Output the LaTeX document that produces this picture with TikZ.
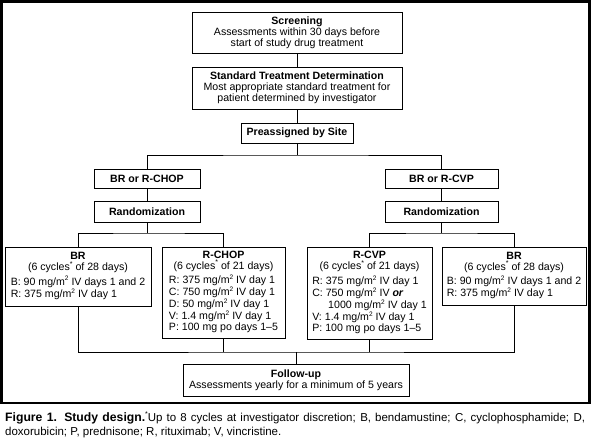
\documentclass[tikz,border=0pt]{standalone}
\usepackage{fontspec}
\setmainfont{Liberation Sans}
\newcommand{\sq}{\raisebox{0.75ex}{\fontsize{6.5}{6.5}\selectfont 2}}
\newcommand{\st}{\raisebox{0.8ex}{\fontsize{7}{7}\selectfont *}}
\begin{document}
\begin{tikzpicture}[x=1pt,y=-1pt,
  box/.style={draw, line width=0.9pt, inner sep=0pt, align=center,
    font=\fontsize{10.6}{11}\selectfont},
  conn/.style={line width=0.9pt},
  frame/.style={line width=2.2pt}]
\useasboundingbox (0,0) rectangle (591,441);
\fill[white] (0,0) rectangle (591,441);
\draw[frame] (1.5,1.5) rectangle (589.5,403);

\node[box, minimum width=210pt, minimum height=41pt] (screen) at (297,32.5)
  {\textbf{Screening}\\Assessments within 30 days before\\start of study drug treatment};
\node[box, minimum width=210pt, minimum height=42pt] (std) at (297,88)
  {\textbf{Standard Treatment Determination}\\Most appropriate standard treatment for\\patient determined by investigator};
\node[box, minimum width=112pt, minimum height=20pt] (pre) at (297,133) {\textbf{Preassigned by Site}};
\coordinate (b) at (297,155);

\node[box, minimum width=106pt, minimum height=19pt] (lsel) at (147,178.5) {\textbf{BR or R-CHOP}};
\node[box, minimum width=106pt, minimum height=21pt] (lrand) at (147,211.5) {\textbf{Randomization}};
\coordinate (ls) at (147,233);
\node[box, minimum width=113pt, minimum height=19pt] (rsel) at (441.5,178.5) {\textbf{BR or R-CVP}};
\node[box, minimum width=113pt, minimum height=21pt] (rrand) at (441.5,211.5) {\textbf{Randomization}};
\coordinate (rs) at (441.5,233);

\node[box, minimum width=146pt, minimum height=59pt] (lbr) at (78,276.5)
  {\textbf{BR}\\(6 cycles\st{} of 28 days)\\[2.5pt]
   \begin{tabular}{@{}l@{}}B: 90 mg/m\sq{} IV days 1 and 2\\R: 375 mg/m\sq{} IV day 1\end{tabular}};
\node[box, minimum width=123pt, minimum height=91pt] (lchop) at (223.5,292.5)
  {\textbf{R-CHOP}\\(6 cycles\st{} of 21 days)\\[2.5pt]
   \begin{tabular}{@{}l@{}}R: 375 mg/m\sq{} IV day 1\\C: 750 mg/m\sq{} IV day 1\\D: 50 mg/m\sq{} IV day 1\\V: 1.4 mg/m\sq{} IV day 1\\P: 100 mg po days 1--5\end{tabular}};
\node[box, minimum width=125pt, minimum height=92pt] (rcvp) at (369.5,293)
  {\textbf{R-CVP}\\(6 cycles\st{} of 21 days)\\[2.5pt]
   \begin{tabular}{@{}l@{}}R: 375 mg/m\sq{} IV day 1\\C: 750 mg/m\sq{} IV \textbf{\textit{or}}\\\hspace{1.5em}1000 mg/m\sq{} IV day 1\\V: 1.4 mg/m\sq{} IV day 1\\P: 100 mg po days 1--5\end{tabular}};
\node[box, minimum width=144pt, minimum height=58pt] (rbr) at (514,276)
  {\textbf{BR}\\(6 cycles\st{} of 28 days)\\[2.5pt]
   \begin{tabular}{@{}l@{}}B: 90 mg/m\sq{} IV days 1 and 2\\R: 375 mg/m\sq{} IV day 1\end{tabular}};

\coordinate (j) at (296,352);
\node[box, minimum width=226pt, minimum height=32pt] (follow) at (296,380)
  {\textbf{Follow-up}\\Assessments yearly for a minimum of 5 years};

\draw[conn] (screen.south) -- (std.north);
\draw[conn] (std.south) -- (pre.north);
\draw[conn] (pre.south) -- (b);
\draw[conn] (lsel.north) |- (b) -| (rsel.north);
\draw[conn] (lsel.south) -- (lrand.north);
\draw[conn] (rsel.south) -- (rrand.north);
\draw[conn] (lrand.south) -- (ls);
\draw[conn] (rrand.south) -- (rs);
\draw[conn] (lbr.north) |- (ls) -| (lchop.north);
\draw[conn] (rcvp.north) |- (rs) -| (rbr.north);
\draw[conn] (lbr.south) |- (j) -| (rbr.south);
\draw[conn] (lchop.south) -- (lchop.south |- j);
\draw[conn] (rcvp.south) -- (rcvp.south |- j);
\draw[conn] (j) -- (follow.north);

\node[anchor=north west, inner sep=0pt, text width=580pt, align=justify,
  font=\fontsize{11.5}{14}\selectfont] (cap) at (5,411.5)
  {{\fontsize{12.2}{14}\selectfont\textbf{Figure 1. Study design.}}\st{}Up to 8 cycles at investigator discretion; B, bendamustine; C, cyclophosphamide; D,\linebreak doxorubicin; P, prednisone; R, rituximab; V, vincristine.};
\end{tikzpicture}
\end{document}
